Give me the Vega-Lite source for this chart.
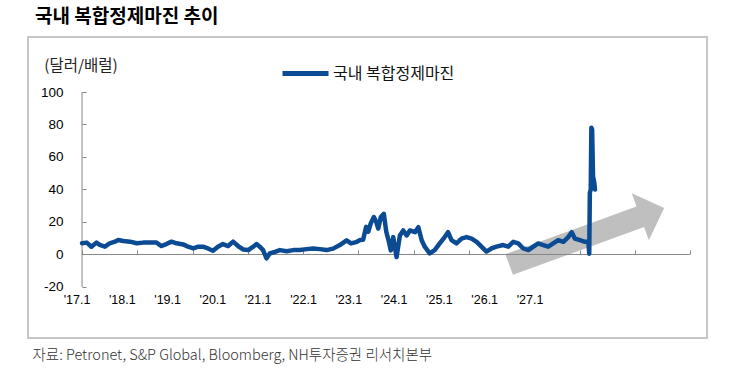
{
  "$schema": "https://vega.github.io/schema/vega-lite/v6.json",
  "width": 679,
  "height": 301,
  "autosize": {"type": "none"},
  "padding": {"left": 28, "top": 37, "right": 23, "bottom": 36},
  "title": {
    "text": "국내 복합정제마진 추이",
    "anchor": "start",
    "frame": "group",
    "dx": 7,
    "offset": 10,
    "font": "Noto Sans CJK KR",
    "fontSize": 19,
    "fontWeight": "bold",
    "color": "#000000"
  },
  "config": {
    "view": {"stroke": "#c6c6c6", "strokeWidth": 2},
    "axis": {"grid": false}
  },
  "resolve": {"scale": {"x": "independent"}, "axis": {"x": "independent"}},
  "layer": [
    {
      "data": {
        "values": [
          {"date": "2017-01-01", "value": 6.9}, {"date": "2017-02-01", "value": 7.3}, {"date": "2017-03-04", "value": 4.8},
          {"date": "2017-04-06", "value": 7.3}, {"date": "2017-04-28", "value": 5.9}, {"date": "2017-06-01", "value": 4.8},
          {"date": "2017-07-03", "value": 6.9}, {"date": "2017-08-06", "value": 7.9}, {"date": "2017-08-28", "value": 8.9},
          {"date": "2017-10-01", "value": 8.3}, {"date": "2017-11-14", "value": 7.9}, {"date": "2017-12-28", "value": 6.9},
          {"date": "2018-02-10", "value": 7.3}, {"date": "2018-03-24", "value": 7.3}, {"date": "2018-05-08", "value": 7.3},
          {"date": "2018-06-10", "value": 5.2}, {"date": "2018-07-12", "value": 6.4}, {"date": "2018-08-15", "value": 7.9},
          {"date": "2018-09-17", "value": 6.9}, {"date": "2018-10-31", "value": 6.2}, {"date": "2018-12-03", "value": 4.8},
          {"date": "2019-01-06", "value": 3.7}, {"date": "2019-02-08", "value": 4.8}, {"date": "2019-03-11", "value": 4.8},
          {"date": "2019-04-13", "value": 3.7}, {"date": "2019-05-16", "value": 2.3}, {"date": "2019-06-18", "value": 4.8},
          {"date": "2019-07-21", "value": 6.4}, {"date": "2019-08-24", "value": 5.2}, {"date": "2019-09-26", "value": 7.9},
          {"date": "2019-10-29", "value": 5.2}, {"date": "2019-12-01", "value": 3.1}, {"date": "2020-01-04", "value": 2.7},
          {"date": "2020-02-06", "value": 4.8}, {"date": "2020-02-28", "value": 6.4}, {"date": "2020-03-20", "value": 4.8},
          {"date": "2020-04-11", "value": 2.7}, {"date": "2020-05-04", "value": -2.4}, {"date": "2020-05-25", "value": 0.6},
          {"date": "2020-06-28", "value": 1.6}, {"date": "2020-07-31", "value": 2.7}, {"date": "2020-09-14", "value": 2.0},
          {"date": "2020-10-27", "value": 2.7}, {"date": "2020-12-10", "value": 2.7}, {"date": "2021-01-24", "value": 3.3},
          {"date": "2021-03-08", "value": 3.7}, {"date": "2021-04-21", "value": 3.3}, {"date": "2021-06-04", "value": 2.7},
          {"date": "2021-07-18", "value": 3.6}, {"date": "2021-08-31", "value": 5.8}, {"date": "2021-10-15", "value": 8.7},
          {"date": "2021-11-13", "value": 6.8}, {"date": "2021-12-16", "value": 7.6}, {"date": "2022-01-12", "value": 8.9},
          {"date": "2022-02-01", "value": 9.0}, {"date": "2022-02-21", "value": 17.0}, {"date": "2022-03-07", "value": 14.0},
          {"date": "2022-03-23", "value": 19.0}, {"date": "2022-04-13", "value": 23.0}, {"date": "2022-04-29", "value": 20.0},
          {"date": "2022-05-12", "value": 16.0}, {"date": "2022-05-29", "value": 23.0}, {"date": "2022-06-18", "value": 25.0},
          {"date": "2022-07-04", "value": 14.0}, {"date": "2022-07-21", "value": 8.0}, {"date": "2022-08-03", "value": 2.5},
          {"date": "2022-08-19", "value": 10.7}, {"date": "2022-09-10", "value": -1.6}, {"date": "2022-10-02", "value": 11.7},
          {"date": "2022-10-24", "value": 14.8}, {"date": "2022-11-16", "value": 11.7}, {"date": "2022-12-07", "value": 14.8},
          {"date": "2023-01-10", "value": 13.7}, {"date": "2023-02-01", "value": 16.8}, {"date": "2023-02-23", "value": 8.8},
          {"date": "2023-03-15", "value": 4.8}, {"date": "2023-04-17", "value": 0.7}, {"date": "2023-05-20", "value": 2.7},
          {"date": "2023-06-22", "value": 6.8}, {"date": "2023-07-25", "value": 10.7}, {"date": "2023-08-16", "value": 13.7},
          {"date": "2023-09-08", "value": 8.8}, {"date": "2023-10-11", "value": 6.8}, {"date": "2023-11-13", "value": 9.8},
          {"date": "2023-12-16", "value": 10.7}, {"date": "2024-01-19", "value": 9.8}, {"date": "2024-02-21", "value": 7.8},
          {"date": "2024-03-24", "value": 4.8}, {"date": "2024-04-26", "value": 1.8}, {"date": "2024-05-29", "value": 3.7},
          {"date": "2024-07-01", "value": 4.8}, {"date": "2024-08-14", "value": 5.8}, {"date": "2024-09-17", "value": 4.8},
          {"date": "2024-10-20", "value": 7.8}, {"date": "2024-11-22", "value": 6.8}, {"date": "2024-12-25", "value": 3.7},
          {"date": "2025-01-28", "value": 2.7}, {"date": "2025-03-02", "value": 4.8}, {"date": "2025-04-03", "value": 6.8},
          {"date": "2025-05-06", "value": 5.8}, {"date": "2025-06-08", "value": 4.8}, {"date": "2025-07-11", "value": 6.8},
          {"date": "2025-08-13", "value": 8.8}, {"date": "2025-09-16", "value": 7.8}, {"date": "2025-10-18", "value": 10.7},
          {"date": "2025-11-10", "value": 13.7}, {"date": "2025-12-01", "value": 9.8}, {"date": "2026-01-04", "value": 8.8},
          {"date": "2026-02-06", "value": 7.8}, {"date": "2026-02-28", "value": 7.8}, {"date": "2026-03-06", "value": 0.5},
          {"date": "2026-03-10", "value": 38.0}, {"date": "2026-03-16", "value": 40.0}, {"date": "2026-03-20", "value": 78.0},
          {"date": "2026-03-25", "value": 77.0}, {"date": "2026-03-31", "value": 48.0}, {"date": "2026-04-07", "value": 45.0},
          {"date": "2026-04-13", "value": 40.0}
        ]
      },
      "layer": [
        {
          "data": {"values": [{}]},
          "mark": {
            "type": "point",
            "shape": "M-1,-0.1333L0.692,-0.1333L0.692,-0.303L1,0L0.692,0.303L0.692,0.1333L-1,0.1333Z",
            "filled": true,
            "fill": "#bfbfbf",
            "fillOpacity": 1,
            "strokeWidth": 0,
            "size": 27225,
            "angle": -20
          },
          "encoding": {
            "x": {"datum": {"year": 2026, "month": 2, "date": 17}, "type": "temporal"},
            "y": {"datum": 11.2, "type": "quantitative"}
          }
        },
        {
          "data": {"values": [{}]},
          "mark": {"type": "rule", "color": "#868686", "strokeWidth": 1},
          "encoding": {
            "x": {"datum": {"year": 2017, "month": 1, "date": 1}, "type": "temporal"},
            "y": {"datum": -20, "type": "quantitative"},
            "y2": {"datum": 100}
          }
        },
        {
          "data": {"values": [{}]},
          "mark": {"type": "rule", "color": "#868686", "strokeWidth": 1},
          "encoding": {
            "x": {"datum": {"year": 2017, "month": 1, "date": 1}, "type": "temporal"},
            "x2": {"datum": {"year": 2028, "month": 1, "date": 1}},
            "y": {"datum": 0, "type": "quantitative"}
          }
        },
        {
          "mark": {"type": "line", "strokeWidth": 4.5, "strokeJoin": "round", "strokeCap": "round"},
          "encoding": {
            "x": {
              "field": "date",
              "type": "temporal",
              "scale": {"domain": [{"year": 2016, "month": 1, "date": 10}, {"year": 2028, "month": 4, "date": 22}]},
              "axis": {
                "orient": "bottom",
                "offset": -84,
                "domain": false,
                "labels": false,
                "ticks": true,
                "tickSize": -4,
                "tickColor": "#868686",
                "values": [{"year": 2017}, {"year": 2018}, {"year": 2019}, {"year": 2020}, {"year": 2021}, {"year": 2022}, {"year": 2023}, {"year": 2024}, {"year": 2025}, {"year": 2026}, {"year": 2027}, {"year": 2028}],
                "title": "자료: Petronet, S&P Global, Bloomberg, NH투자증권 리서치본부",
                "titleFont": "Noto Sans CJK KR",
                "titleFontSize": 14.5,
                "titleFontWeight": 300,
                "titleColor": "#333333",
                "titleAnchor": "start",
                "titleAlign": "left",
                "titleBaseline": "middle",
                "titleX": 4,
                "titleY": 101
              }
            },
            "y": {
              "field": "value",
              "type": "quantitative",
              "scale": {"domain": [-51.4, 133.85], "nice": false, "zero": false},
              "axis": {
                "orient": "left",
                "offset": -54,
                "domain": false,
                "values": [-20, 0, 20, 40, 60, 80, 100],
                "labelExpr": "'' + datum.value",
                "tickSize": -4,
                "tickColor": "#868686",
                "labelPadding": 23,
                "labelFont": "Liberation Sans",
                "labelFontSize": 13.5,
                "labelColor": "#000000",
                "title": "(달러/배럴)",
                "titleAngle": 0,
                "titleFont": "Noto Sans CJK KR",
                "titleFontSize": 15.5,
                "titleFontWeight": "normal",
                "titleColor": "#222222",
                "titleAlign": "center",
                "titleBaseline": "middle",
                "titleX": -1.5,
                "titleY": 28
              }
            },
            "color": {
              "datum": "국내 복합정제마진",
              "type": "nominal",
              "scale": {"range": ["#0b4b93"]},
              "legend": {
                "title": null,
                "orient": "none",
                "legendX": 252,
                "legendY": 11,
                "padding": 0,
                "symbolType": "stroke",
                "symbolSize": 2116,
                "symbolStrokeWidth": 5,
                "labelOffset": 2,
                "labelFont": "Noto Sans CJK KR",
                "labelFontSize": 16,
                "labelColor": "#111111"
              }
            }
          }
        }
      ]
    },
    {
      "data": {
        "values": [
          {"i": 0, "label": "'17.1"}, {"i": 1, "label": "'18.1"}, {"i": 2, "label": "'19.1"}, {"i": 3, "label": "'20.1"},
          {"i": 4, "label": "'21.1"}, {"i": 5, "label": "'22.1"}, {"i": 6, "label": "'23.1"}, {"i": 7, "label": "'24.1"},
          {"i": 8, "label": "'25.1"}, {"i": 9, "label": "'26.1"}, {"i": 10, "label": "'27.1"}
        ]
      },
      "mark": {
        "type": "text",
        "font": "Liberation Sans Narrow, Arial Narrow, Liberation Sans",
        "fontSize": 12.5,
        "color": "#000000",
        "align": "center",
        "baseline": "middle",
        "dy": 13
      },
      "encoding": {
        "x": {"field": "i", "type": "quantitative", "scale": {"domain": [-1.0817, 13.907], "nice": false, "zero": false}, "axis": null},
        "y": {"datum": -20, "type": "quantitative"},
        "text": {"field": "label"}
      }
    }
  ]
}
